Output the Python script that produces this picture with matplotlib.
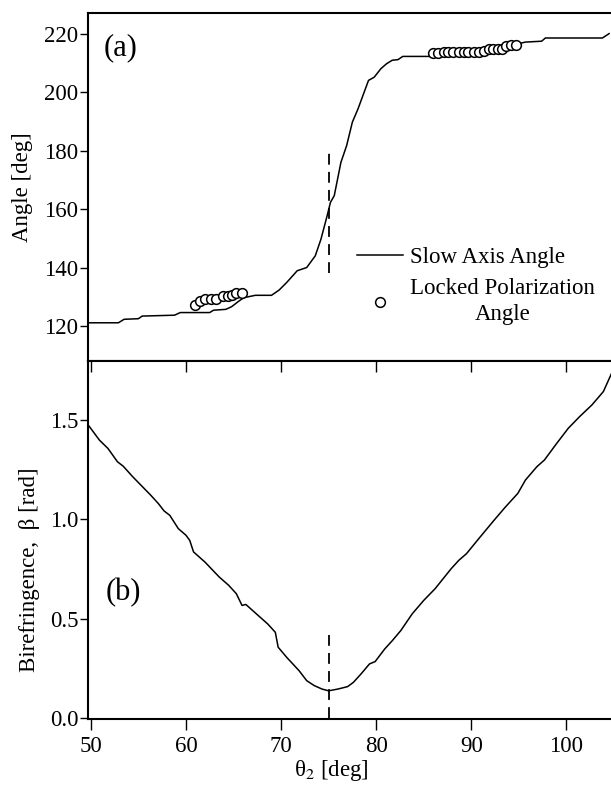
import numpy as np
import matplotlib
matplotlib.use("Agg")
import matplotlib.pyplot as plt

plt.rcParams["font.family"] = ["Liberation Serif", "DejaVu Serif"]
plt.rcParams["mathtext.fontset"] = "stix"

# ---- panel (a): slow axis angle vs theta2 ----
slow_theta = [49.8, 52.9, 53.5, 55.0, 55.4, 58.8, 59.4, 62.5, 62.9, 64.2, 64.8,
              65.6, 66.1, 67.3, 69.0, 69.8, 70.6, 71.7, 72.7, 73.6, 74.2, 74.8,
              75.2, 75.6, 76.3, 76.9, 77.5, 78.1, 79.2, 79.8, 80.5, 81.1, 81.7,
              82.3, 82.8, 85.7, 87.4, 91.5, 92.8, 95.7, 97.4, 97.8, 103.8, 104.5]
slow_angle = [121.1, 121.1, 122.3, 122.5, 123.4, 123.7, 124.6, 124.6, 125.4, 125.7,
              126.6, 128.6, 129.7, 130.5, 130.5, 132.3, 134.9, 138.9, 140.0, 144.0,
              149.7, 157.1, 162.3, 164.6, 176.0, 181.7, 189.7, 194.3, 204.0, 205.1,
              208.0, 209.7, 210.9, 211.1, 212.2, 212.2, 213.4, 213.9, 214.9, 217.1,
              217.4, 218.5, 218.5, 220.0]

locked_theta = [61.0, 61.5, 62.0, 62.6, 63.2, 63.9, 64.4, 64.8, 65.3, 65.9,
                86.0, 86.5, 87.1, 87.6, 88.1, 88.7, 89.2, 89.7, 90.3, 90.8,
                91.3, 91.9, 92.3, 92.8, 93.2, 93.7, 94.2, 94.7]
locked_angle = [127.1, 128.6, 129.4, 129.4, 129.4, 130.3, 130.3, 130.5, 131.4, 131.4,
                213.2, 213.5, 213.7, 213.7, 213.7, 213.7, 213.7, 213.7, 213.7, 213.7,
                213.9, 214.6, 214.6, 214.6, 214.9, 215.8, 216.0, 216.2]

# ---- panel (b): birefringence vs theta2 ----
bir_theta = [49.8, 50.9, 51.8, 52.8, 53.4, 54.4, 56.3, 57.1, 57.7, 58.3, 59.2, 60.0,
             60.4, 60.8, 62.0, 63.5, 64.5, 65.3, 65.9, 66.3, 67.4, 68.6, 69.4, 69.7,
             70.6, 71.9, 72.7, 73.5, 74.3, 75.0, 76.0, 77.0, 77.6, 78.4, 79.3, 79.9,
             80.9, 81.7, 82.6, 83.8, 85.0, 86.2, 87.9, 88.7, 89.5, 90.8, 92.4, 93.6,
             94.9, 95.7, 96.9, 97.7, 99.0, 100.2, 101.4, 102.7, 103.9, 105.0]
bir_beta = [1.470, 1.399, 1.357, 1.290, 1.268, 1.215, 1.122, 1.080, 1.043, 1.021,
            0.954, 0.921, 0.895, 0.837, 0.786, 0.711, 0.669, 0.627, 0.568, 0.573,
            0.526, 0.475, 0.433, 0.358, 0.307, 0.240, 0.190, 0.165, 0.148, 0.139,
            0.148, 0.160, 0.181, 0.223, 0.274, 0.286, 0.349, 0.391, 0.442, 0.526,
            0.593, 0.652, 0.753, 0.795, 0.828, 0.904, 0.996, 1.063, 1.131, 1.198,
            1.265, 1.299, 1.383, 1.458, 1.517, 1.576, 1.643, 1.760]

theta_lock = 75.0
XLIM = (49.7, 104.7)

fig = plt.figure(figsize=(6.11, 7.85), dpi=100)
ax_a = fig.add_axes([0.144, 0.540, 0.856, 0.444])
ax_b = fig.add_axes([0.144, 0.084, 0.856, 0.456])

TICK_FS = 16.5
LABEL_FS = 16.5

# panel (a)
ax_a.plot(slow_theta, slow_angle, color="black", lw=1.1, label="Slow Axis Angle")
ax_a.plot(locked_theta, locked_angle, ls="none", marker="o", ms=7, mfc="white",
          mec="black", mew=1.1, label="Locked Polarization\nAngle")
ax_a.plot([theta_lock, theta_lock], [138, 181], color="black", ls=(0, (6, 4)), lw=1.3)
ax_a.set_xlim(*XLIM)
ax_a.set_ylim(108, 227.2)
ax_a.set_yticks([120, 140, 160, 180, 200, 220])
ax_a.set_xticks([])
ax_a.set_ylabel("Angle [deg]", fontsize=LABEL_FS)
ax_a.yaxis.set_label_coords(-0.106, 0.5)
ax_a.text(0.063, 0.90, "(a)", transform=ax_a.transAxes, fontsize=22,
          ha="center", va="center")
leg = ax_a.legend(loc="upper left", bbox_to_anchor=(0.493, 0.36), frameon=False,
                  fontsize=TICK_FS, handlelength=2.0, handletextpad=0.3,
                  labelspacing=0.45, borderpad=0.0)
for t in leg.get_texts():
    t.set_multialignment("center")
    t.set_linespacing(1.3)

# panel (b)
ax_b.plot(bir_theta, bir_beta, color="black", lw=1.1)
ax_b.plot([theta_lock, theta_lock], [0, 0.42], color="black", ls=(0, (6, 4)), lw=1.3)
ax_b.set_xlim(*XLIM)
ax_b.set_ylim(-0.003, 1.796)
ax_b.set_yticks([0.0, 0.5, 1.0, 1.5])
ax_b.set_yticklabels(["0.0", "0.5", "1.0", "1.5"])
ax_b.set_xticks([50, 60, 70, 80, 90, 100])
ax_b.tick_params(axis="x", which="both", top=True, bottom=True)
ax_b.set_xlabel("θ$_2$ [deg]", fontsize=LABEL_FS)
ax_b.xaxis.set_label_coords(0.465, -0.108)
ax_b.set_ylabel("Birefringence,  β [rad]", fontsize=LABEL_FS)
ax_b.yaxis.set_label_coords(-0.092, 0.416)
ax_b.text(0.067, 0.352, "(b)", transform=ax_b.transAxes, fontsize=22,
          ha="center", va="center")

for ax in (ax_a, ax_b):
    ax.spines["right"].set_visible(False)
    for s in ("left", "top", "bottom"):
        ax.spines[s].set_linewidth(1.5)
    ax.tick_params(axis="y", direction="out", length=6, width=1.0,
                   labelsize=TICK_FS, pad=1)
ax_b.tick_params(axis="x", direction="out", length=8, width=1.0,
                 labelsize=TICK_FS, pad=4)
# top ticks of (b) point inward (down from the shared boundary)
for tick in ax_b.xaxis.get_major_ticks():
    tick.tick2line.set_marker(matplotlib.lines.TICKDOWN)
    tick.tick2line.set_markersize(8)

fig.savefig("out.png", dpi=100)
